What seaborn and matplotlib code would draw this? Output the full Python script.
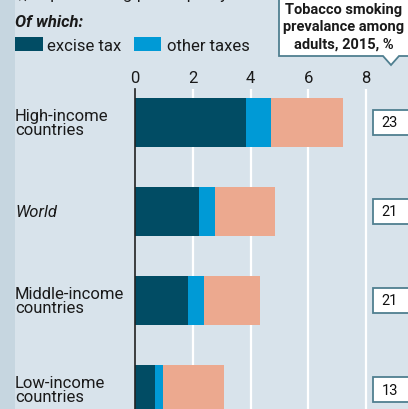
import numpy as np
import pandas as pd
import matplotlib
matplotlib.use("Agg")
import matplotlib.pyplot as plt
from matplotlib.patches import Rectangle, Polygon
import seaborn as sns

# Price of a pack of cigarettes, split into excise tax, other taxes and the rest
groups = ["High-income\ncountries", "World", "Middle-income\ncountries", "Low-income\ncountries"]
excise_tax = [3.83, 2.21, 1.83, 0.69]
other_taxes = [0.86, 0.55, 0.55, 0.28]
rest_of_price = [2.52, 2.10, 1.96, 2.10]
smoking_prevalence = [23, 21, 21, 13]
x_ticks = [0, 2, 4, 6, 8]

BG = "#d8e3eb"
STRIP = "#c6d6e0"
DARK = "#014c64"
BLUE = "#009ad6"
SALMON = "#eca98f"
EDGE = "#4f7f90"

sns.set_theme(style="white")
plt.rcParams["font.family"] = ["Roboto", "DejaVu Sans"]

W, H = 408, 410
fig = plt.figure(figsize=(W / 100, H / 100), dpi=100)
fig.patch.set_facecolor(BG)


def fx(px):
    return px / W


def fy(py):
    return 1 - py / H


# darker strip on the left edge
fig.add_artist(Rectangle((0, 0), fx(15), 1, transform=fig.transFigure,
                         facecolor=STRIP, edgecolor="none", zorder=0))

df = pd.DataFrame({
    "group": groups,
    "excise": excise_tax,
    "taxes": np.add(excise_tax, other_taxes),
    "total": np.add(np.add(excise_tax, other_taxes), rest_of_price),
})

left_px, right_px = 135, 372
top_px, bot_px = 90, 410
ax = fig.add_axes([fx(left_px), 0, fx(right_px - left_px), fy(top_px)])
ax.set_facecolor(BG)

bw = 0.55
sns.barplot(data=df, y="group", x="total", color=SALMON, width=bw, ax=ax,
            saturation=1, orient="h")
sns.barplot(data=df, y="group", x="taxes", color=BLUE, width=bw, ax=ax,
            saturation=1, orient="h")
sns.barplot(data=df, y="group", x="excise", color=DARK, width=bw, ax=ax,
            saturation=1, orient="h")
for p in ax.patches:
    p.set_edgecolor("none")
    p.set_linewidth(0)

xmax = (right_px - left_px) / 28.9
ax.set_xlim(0, xmax)
ax.set_ylim(3.219, -0.376)
for t in x_ticks[1:]:
    ax.axvline(t, color="white", lw=1.6, zorder=0)
ax.set_axisbelow(True)
ax.xaxis.tick_top()
ax.set_xticks(x_ticks)
ax.set_xticklabels([str(t) for t in x_ticks], fontsize=12, color="#1a1a1a")
ax.tick_params(axis="x", length=0, pad=3)
ax.set_yticks([])
ax.set_xlabel("")
ax.set_ylabel("")
for s in ["top", "right", "bottom"]:
    ax.spines[s].set_visible(False)
ax.spines["left"].set_color("#222222")
ax.spines["left"].set_linewidth(1.2)

# category labels
for i, g in enumerate(groups):
    yc = ax.transData.transform((0, i))[1] / H
    style = "italic" if g == "World" else "normal"
    fig.text(fx(15), yc, g, fontsize=12, style=style, va="center", ha="left",
             color="#1a1a1a", linespacing=0.95)

# prevalence boxes on the right
for i, v in enumerate(smoking_prevalence):
    yc = ax.transData.transform((0, i))[1] / H
    fig.add_artist(Rectangle((fx(372.5), yc - 12.5 / H), fx(40), 25 / H,
                             transform=fig.transFigure, facecolor="white",
                             edgecolor=EDGE, lw=1.3, zorder=3))
    fig.text(fx(390), yc, str(v), fontsize=10.5, ha="center", va="center",
             color="#111111", zorder=4)

# header text (subtitle runs off the top edge)
fig.text(fx(15), fy(-1.5), "$, at purchasing-power parity", fontsize=12,
         ha="left", va="baseline", color="#1a1a1a")
fig.text(fx(15), fy(27), "Of which:", fontsize=12, weight="bold", style="italic",
         ha="left", va="baseline", color="#1a1a1a")
fig.add_artist(Rectangle((fx(15), fy(52)), 28 / W, 14 / H,
                         transform=fig.transFigure, facecolor=DARK, edgecolor="none"))
fig.text(fx(47), fy(51), "excise tax", fontsize=12, ha="left", va="baseline",
         color="#1a1a1a")
fig.add_artist(Rectangle((fx(134), fy(52)), 27 / W, 14 / H,
                         transform=fig.transFigure, facecolor=BLUE, edgecolor="none"))
fig.text(fx(167), fy(51), "other taxes", fontsize=12, ha="left", va="baseline",
         color="#1a1a1a")

# callout box with pointer
callout = Polygon([(fx(279), fy(-2)), (fx(279), fy(57)), (fx(383), fy(57)),
                   (fx(391), fy(66)), (fx(399), fy(57)), (fx(412), fy(57)),
                   (fx(412), fy(-2))], closed=True, transform=fig.transFigure,
                  facecolor="white", edgecolor=EDGE, lw=1.3, zorder=3)
fig.add_artist(callout)
fig.text(fx(344), fy(27), "Tobacco smoking\nprevalance among\nadults, 2015, %",
         fontsize=10.5, weight="bold", ha="center", va="center", color="#1a1a1a",
         linespacing=1.3, zorder=4)

fig.savefig("out.png", dpi=100, facecolor=BG)
